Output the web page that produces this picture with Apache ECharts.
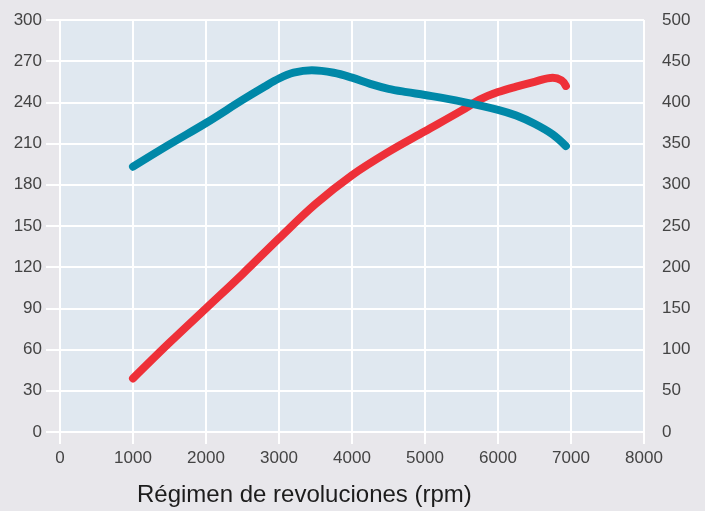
<!DOCTYPE html>
<html>
<head>
<meta charset="utf-8">
<script src="https://cdn.jsdelivr.net/npm/echarts@6/dist/echarts.min.js"></script>
<style>
  html, body { margin: 0; padding: 0; background: #e8e7eb; }
  #chart { width: 705px; height: 511px; }
</style>
</head>
<body>
<div id="chart"></div>
<script>
// Engine speed (rpm) vs power (kW, left axis) and torque (Nm, right axis)
const rpmTicks = [0, 1000, 2000, 3000, 4000, 5000, 6000, 7000, 8000];
const powerTicks = [0, 30, 60, 90, 120, 150, 180, 210, 240, 270, 300];
const torqueTicks = [0, 50, 100, 150, 200, 250, 300, 350, 400, 450, 500];

const powerRpm = [1000, 1500, 2000, 2500, 3000, 3500, 4000, 4500, 5000, 5500, 5750, 6000, 6250, 6500, 6750, 6870, 6930];
const powerKw  = [39,   65,   90,   115,  141,  166,  187,  204,  219,  234,  242,  247.5, 251.5, 255, 258, 256,  252];

const torqueRpm = [1000, 1500, 2000, 2500, 2800, 3000, 3200, 3450, 3750, 4000, 4250, 4500, 4750, 5000, 5500, 6000, 6250, 6500, 6750, 6930];
const torqueNm  = [322,  349,  375,  403,  419,  429,  436,  439,  436,  430,  422.5, 416.5, 412.5, 409, 401, 391, 384,  374,  361,  347];

const xLabel = 'Régimen de revoluciones (rpm)';

const FONT = '"Liberation Sans", Arial, sans-serif';
const tickColor = '#ffffff';
const labelStyle = { color: '#444444', fontSize: 17, fontFamily: FONT };

const chart = echarts.init(document.getElementById('chart'), null, { renderer: 'canvas' });

chart.setOption({
  backgroundColor: '#e8e7eb',
  animation: false,
  title: {
    text: xLabel,
    left: 132,
    top: 478,
    textStyle: { color: '#1c1c1c', fontSize: 24, fontWeight: 'normal', fontFamily: FONT }
  },
  grid: {
    left: 60, right: 61, top: 20, bottom: 79,
    show: true, backgroundColor: '#e0e8f0', borderWidth: 0
  },
  xAxis: [{
    type: 'value',
    min: rpmTicks[0], max: rpmTicks[rpmTicks.length - 1], interval: 1000,
    position: 'bottom',
    axisLine: { show: false },
    axisTick: { show: true, length: 12, lineStyle: { color: tickColor, width: 2 } },
    axisLabel: Object.assign({ margin: 18, formatter: v => String(v) }, labelStyle),
    splitLine: { show: true, lineStyle: { color: '#ffffff', width: 2 } }
  }, {
    type: 'value',
    min: rpmTicks[0], max: rpmTicks[rpmTicks.length - 1], interval: 1000,
    position: 'top',
    axisLine: { show: false },
    axisTick: { show: true, length: 12, lineStyle: { color: tickColor, width: 2 } },
    axisLabel: { show: false },
    splitLine: { show: false }
  }],
  yAxis: [{
    type: 'value',
    min: powerTicks[0], max: powerTicks[powerTicks.length - 1], interval: 30,
    position: 'left',
    axisLine: { show: false },
    axisTick: { show: true, length: 14, lineStyle: { color: tickColor, width: 2 } },
    axisLabel: Object.assign({ margin: 18, formatter: v => String(v) }, labelStyle),
    splitLine: { show: true, lineStyle: { color: '#ffffff', width: 2 } }
  }, {
    type: 'value',
    min: torqueTicks[0], max: torqueTicks[torqueTicks.length - 1], interval: 50,
    position: 'right',
    axisLine: { show: false },
    axisTick: { show: true, length: 12, lineStyle: { color: tickColor, width: 2 } },
    axisLabel: Object.assign({ margin: 18, formatter: v => String(v) }, labelStyle),
    splitLine: { show: false }
  }],
  series: [{
    name: 'Potencia',
    type: 'line',
    xAxisIndex: 0,
    yAxisIndex: 0,
    data: powerRpm.map((r, i) => [r, powerKw[i]]),
    smooth: 0.35,
    showSymbol: false,
    lineStyle: { color: '#ee3038', width: 8, cap: 'round', join: 'round' },
    z: 3
  }, {
    name: 'Par',
    type: 'line',
    xAxisIndex: 0,
    yAxisIndex: 1,
    data: torqueRpm.map((r, i) => [r, torqueNm[i]]),
    smooth: 0.35,
    showSymbol: false,
    lineStyle: { color: '#0088a8', width: 8, cap: 'round', join: 'round' },
    z: 4
  }]
});
</script>
</body>
</html>
